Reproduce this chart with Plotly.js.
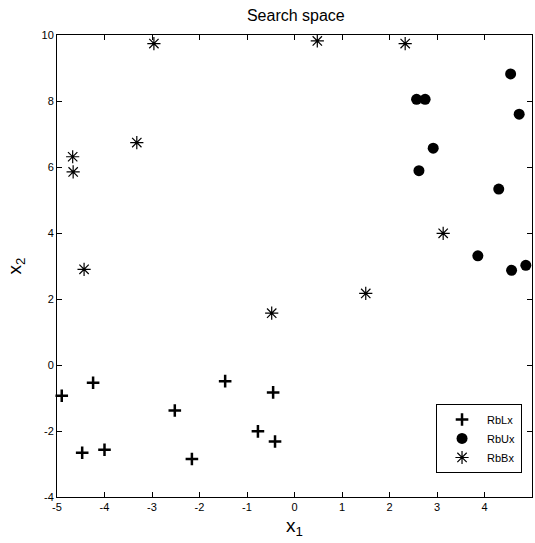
<!DOCTYPE html>
<html>
<head>
<meta charset="utf-8">
<script src="https://cdn.plot.ly/plotly-3.0.1.min.js"></script>
<style>html,body{margin:0;padding:0;background:#fff;}#chart{width:535px;height:543px;}</style>
</head>
<body>
<div id="chart"></div>
<script>
// RbLx (plus markers)
var rbLxX = [-4.90, -4.24, -4.47, -4.00, -2.52, -2.16, -1.46, -0.45, -0.77, -0.41];
var rbLxY = [-0.93, -0.54, -2.66, -2.57, -1.38, -2.85, -0.49, -0.83, -2.01, -2.32];
// RbUx (filled circles)
var rbUxX = [2.57, 2.75, 4.55, 4.73, 2.92, 2.62, 4.30, 3.86, 4.57, 4.87];
var rbUxY = [8.05, 8.05, 8.82, 7.60, 6.57, 5.89, 5.33, 3.31, 2.87, 3.02];
// RbBx (asterisks)
var rbBxX = [-2.96, 0.48, 2.33, -4.67, -4.66, -3.32, -4.43, 3.13, -0.48, 1.50];
var rbBxY = [9.74, 9.82, 9.74, 6.31, 5.85, 6.74, 2.90, 3.99, 1.57, 2.17];
var seriesNames = ['RbLx', 'RbUx', 'RbBx'];
var xTicks = [-5, -4, -3, -2, -1, 0, 1, 2, 3, 4, 5];
var yTicks = [-4, -2, 0, 2, 4, 6, 8, 10];

var traces = [
  {x: rbLxX, y: rbLxY, name: seriesNames[0], mode: 'markers', type: 'scatter', cliponaxis: false,
   marker: {symbol: 'cross-thin-open', size: 9, color: '#000', line: {color: '#000', width: 2.5}}},
  {x: rbUxX, y: rbUxY, name: seriesNames[1], mode: 'markers', type: 'scatter', cliponaxis: false,
   marker: {symbol: 'circle', size: 11, color: '#000', line: {width: 0}}},
  {x: rbBxX, y: rbBxY, name: seriesNames[2], mode: 'markers', type: 'scatter', cliponaxis: false,
   marker: {symbol: 'asterisk-open', size: 11, color: '#000', line: {color: '#000', width: 1.2}}}
];

var axisCommon = {
  showline: true, linecolor: '#000', linewidth: 1, mirror: 'ticks',
  ticks: 'inside', ticklen: 5, tickcolor: '#000', tickwidth: 1,
  showgrid: false, zeroline: false,
  tickfont: {family: 'Liberation Sans, Arial, sans-serif', size: 11, color: '#000'}
};

var layout = {
  width: 535, height: 543,
  margin: {l: 57, r: 3, t: 35, b: 46, pad: 0},
  paper_bgcolor: '#fff', plot_bgcolor: '#fff',
  font: {family: 'Liberation Sans, Arial, sans-serif', color: '#000'},
  title: {text: 'Search space', x: 0.553, xanchor: 'center', y: 0.971, yanchor: 'middle',
          font: {size: 16, color: '#000', family: 'Liberation Sans, Arial, sans-serif'}},
  xaxis: Object.assign({}, axisCommon, {
    range: [-5, 5], tickvals: xTicks, ticktext: xTicks.map(String),
    title: {text: 'x<sub>1</sub>', standoff: 6, font: {size: 19, color: '#000'}}
  }),
  yaxis: Object.assign({}, axisCommon, {
    range: [-4, 10], tickvals: yTicks, ticktext: yTicks.map(String),
    title: {text: 'x<sub>2</sub>', standoff: 14, font: {size: 19, color: '#000'}}
  }),
  showlegend: true,
  legend: {x: 0.979, y: 0.052, xanchor: 'right', yanchor: 'bottom',
           bgcolor: '#fff', bordercolor: '#000', borderwidth: 1,
           font: {size: 11, color: '#000'}, tracegroupgap: 0, itemwidth: 40}
};

Plotly.newPlot('chart', traces, layout, {displayModeBar: false, staticPlot: true});
</script>
</body>
</html>
